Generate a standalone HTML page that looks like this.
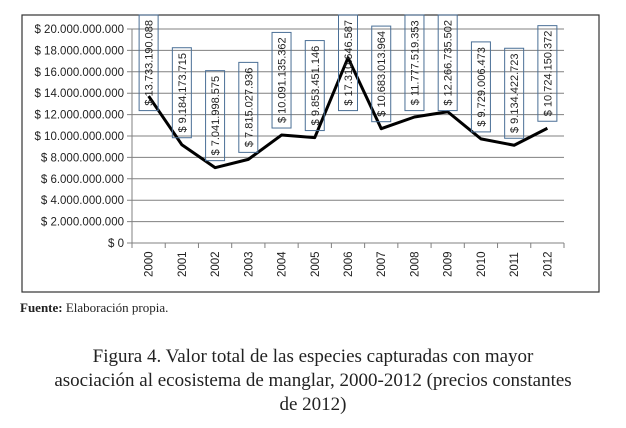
<!DOCTYPE html>
<html><head><meta charset="utf-8"><style>
body{margin:0;width:626px;height:428px;background:#fff;overflow:hidden;position:relative;font-family:"Liberation Sans",sans-serif}
#fuente{position:absolute;left:20px;top:300px;font:13px "Liberation Serif",serif;color:#222}
#cap{position:absolute;left:0;width:626px;top:345px;text-align:center;font:19px/24px "Liberation Serif",serif;color:#222}
</style></head><body>
<svg id="chart" width="626" height="295" style="position:absolute;left:0;top:0"></svg>
<div id="fuente"><b>Fuente:</b> Elaboración propia.</div>
<div id="cap">Figura 4. Valor total de las especies capturadas con mayor<br>asociación al ecosistema de manglar, 2000-2012 (precios constantes<br>de 2012)</div>
<script>
const years=["2000","2001","2002","2003","2004","2005","2006","2007","2008","2009","2010","2011","2012"];
const values=[13733190088,9184173715,7041998575,7815027936,10091135362,9853451146,17310646587,10683013964,11777519353,12266735502,9729006473,9134422723,10724150372];
const labels=["$ 13.733.190.088","$ 9.184.173.715","$ 7.041.998.575","$ 7.815.027.936","$ 10.091.135.362","$ 9.853.451.146","$ 17.310.646.587","$ 10.683.013.964","$ 11.777.519.353","$ 12.266.735.502","$ 9.729.006.473","$ 9.134.422.723","$ 10.724.150.372"];
const ticks=[0,2e9,4e9,6e9,8e9,10e9,12e9,14e9,16e9,18e9,20e9];
const tickLabels=["$ 0","$ 2.000.000.000","$ 4.000.000.000","$ 6.000.000.000","$ 8.000.000.000","$ 10.000.000.000","$ 12.000.000.000","$ 14.000.000.000","$ 16.000.000.000","$ 18.000.000.000","$ 20.000.000.000"];
const svg=document.getElementById('chart');const NS='http://www.w3.org/2000/svg';
const L=132,R=564,T=29,B=243,band=(R-L)/years.length;
const y=v=>B-(v/20e9)*(B-T);const x=i=>L+band*(i+0.5);
function mk(t,a,p){const e=document.createElementNS(NS,t);for(const k in a)e.setAttribute(k,a[k]);(p||svg).appendChild(e);return e;}
let f=mk('rect',{x:22,y:15,width:577,height:277,fill:'none',stroke:'#333','stroke-width':1.2});


ticks.forEach((t,i)=>{
 let g=mk('line',{x1:L-5,x2:R,y1:y(t),y2:y(t),stroke:'#808080','stroke-width':1});
 
 
 let tx=mk('text',{x:L-8,y:y(t)+4,'text-anchor':'end','font-size':11.5,fill:'#222'});tx.textContent=tickLabels[i];
 
 
});
let ax=mk('line',{x1:L,x2:L,y1:T,y2:B,stroke:'#808080'});


years.forEach((yr,i)=>{
 mk('line',{x1:L+band*i,x2:L+band*i,y1:B,y2:B+5,stroke:'#808080'});
 if(i==years.length-1)mk('line',{x1:R,x2:R,y1:B,y2:B+5,stroke:'#808080'});
 let tx=mk('text',{transform:`translate(${x(i)+4},${B+34}) rotate(-90)`,'font-size':11.5,fill:'#222'});tx.textContent=yr;
 
 
});
let pl=mk('polyline',{points:values.map((v,i)=>x(i)+','+y(v)).join(' '),fill:'none',stroke:'#000','stroke-width':3,'stroke-linejoin':'round'});


labels.forEach((lb,i)=>{
 const h=lb.length*5.6+6;let bot=y(values[i])-7;let top=bot-h;if(top<15){top=15;bot=top+h;}
 const g=mk('g',{});
 
 
 mk('rect',{x:x(i)-9.5,y:top,width:19,height:h,fill:'none',stroke:'#4a6f96','stroke-width':1},g);
 let tx=mk('text',{transform:`translate(${x(i)+4},${(top+bot)/2}) rotate(-90)`,'text-anchor':'middle','font-size':11,fill:'#222'},g);tx.textContent=lb;
});
</script>
</body></html>
